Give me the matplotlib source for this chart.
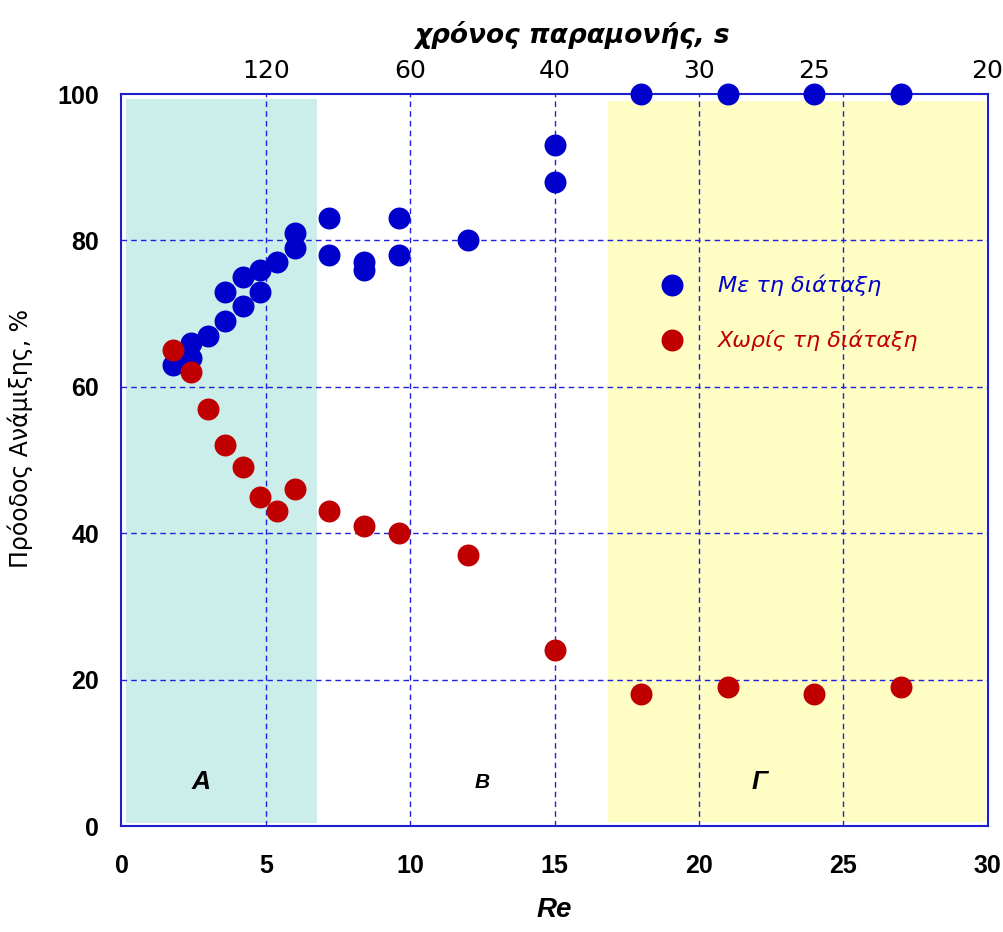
import matplotlib.pyplot as plt
import numpy as np

# Re values and mixing progress (%)
re_with = [1.8, 2.4, 2.4, 3.0, 3.6, 3.6, 4.2, 4.2, 4.8, 4.8, 5.4, 6.0, 6.0,
           7.2, 7.2, 8.4, 8.4, 9.6, 9.6, 12, 15, 15, 18, 21, 24, 27]
mix_with = [63, 64, 66, 67, 69, 73, 71, 75, 73, 76, 77, 79, 81,
            78, 83, 76, 77, 78, 83, 80, 88, 93, 100, 100, 100, 100]
re_without = [1.8, 2.4, 3.0, 3.6, 4.2, 4.8, 5.4, 6.0, 7.2, 8.4, 9.6, 12, 15,
              18, 21, 24, 27]
mix_without = [65, 62, 57, 52, 49, 45, 43, 46, 43, 41, 40, 37, 24,
               18, 19, 18, 19]

# residence time ticks on top axis (t = 600 / Re)
times = [120, 60, 40, 30, 25, 20]

blue = '#0000CC'
red = '#C00000'
frame = '#1F1FD0'

fig = plt.figure(figsize=(10.04, 9.32), dpi=100)
ax = fig.add_axes([0.121, 0.1137, 0.8626, 0.7854])
ax.set_xlim(0, 30)
ax.set_ylim(0, 100)

# shaded regions
ax.axvspan(0.17, 6.77, ymin=0.004, ymax=0.993, color='#CCEEEA', lw=0, zorder=0)
ax.axvspan(16.85, 29.95, ymin=0.005, ymax=0.99, color='#FDFDC4', lw=0, zorder=0)

for v in [5, 10, 15, 20, 25]:
    ax.axvline(v, color='#2020E0', lw=1, ls=(0, (4, 3)), zorder=1)
for v in [20, 40, 60, 80]:
    ax.axhline(v, color='#2020E0', lw=1, ls=(0, (4, 3)), zorder=1)

ax.scatter(re_with, mix_with, s=250, color=blue, zorder=3, clip_on=False,
           linewidths=0)
ax.scatter(re_without, mix_without, s=250, color=red, zorder=3, clip_on=False,
           linewidths=0)

# legend drawn inside the yellow region
ax.scatter([19.07], [73.9], s=250, color=blue, linewidths=0, zorder=3)
ax.scatter([19.07], [66.4], s=250, color=red, linewidths=0, zorder=3)
ax.text(20.66, 73.9, 'Με τη διάταξη', color=blue, fontsize=16, style='italic',
        family='DejaVu Sans', va='center')
ax.text(20.66, 66.4, 'Χωρίς τη διάταξη', color=red, fontsize=16, style='italic',
        family='DejaVu Sans', va='center')

# region labels
for x, lab, fs in [(2.75, 'Α', 19), (12.5, 'Β', 15), (22.1, 'Γ', 19)]:
    ax.text(x, 6, lab, fontsize=fs, fontweight='bold', style='italic',
            family='Liberation Sans', ha='center', va='center')

for sp in ax.spines.values():
    sp.set_color(frame)
    sp.set_linewidth(1.5)

ax.set_xticks([0, 5, 10, 15, 20, 25, 30])
ax.set_yticks([0, 20, 40, 60, 80, 100])
ax.tick_params(axis='x', length=0, pad=20)
ax.tick_params(axis='y', length=0, pad=16)
for lbl in ax.get_xticklabels() + ax.get_yticklabels():
    lbl.set_family('Liberation Sans')
    lbl.set_fontweight('bold')
    lbl.set_fontsize(18)

ax.set_xlabel('Re', fontsize=20, fontweight='bold', style='italic',
              family='Liberation Sans', labelpad=14)
ax.set_ylabel('Πρόοδος Ανάμιξης, %', fontsize=17, family='DejaVu Sans')
ax.yaxis.set_label_coords(-0.102, 0.53)

top = ax.twiny()
top.set_xlim(ax.get_xlim())
top.set_xticks(600 / np.array(times))
top.set_xticklabels([str(t) for t in times], family='DejaVu Sans',
                    fontsize=18)
top.tick_params(length=0, pad=8)
for sp in top.spines.values():
    sp.set_visible(False)
top.set_xlabel('χρόνος παραμονής, s', fontsize=19, fontweight='bold',
               style='italic', family='DejaVu Sans')
top.xaxis.set_label_coords(0.52, 1.07)

fig.savefig('out.png', dpi=100)
